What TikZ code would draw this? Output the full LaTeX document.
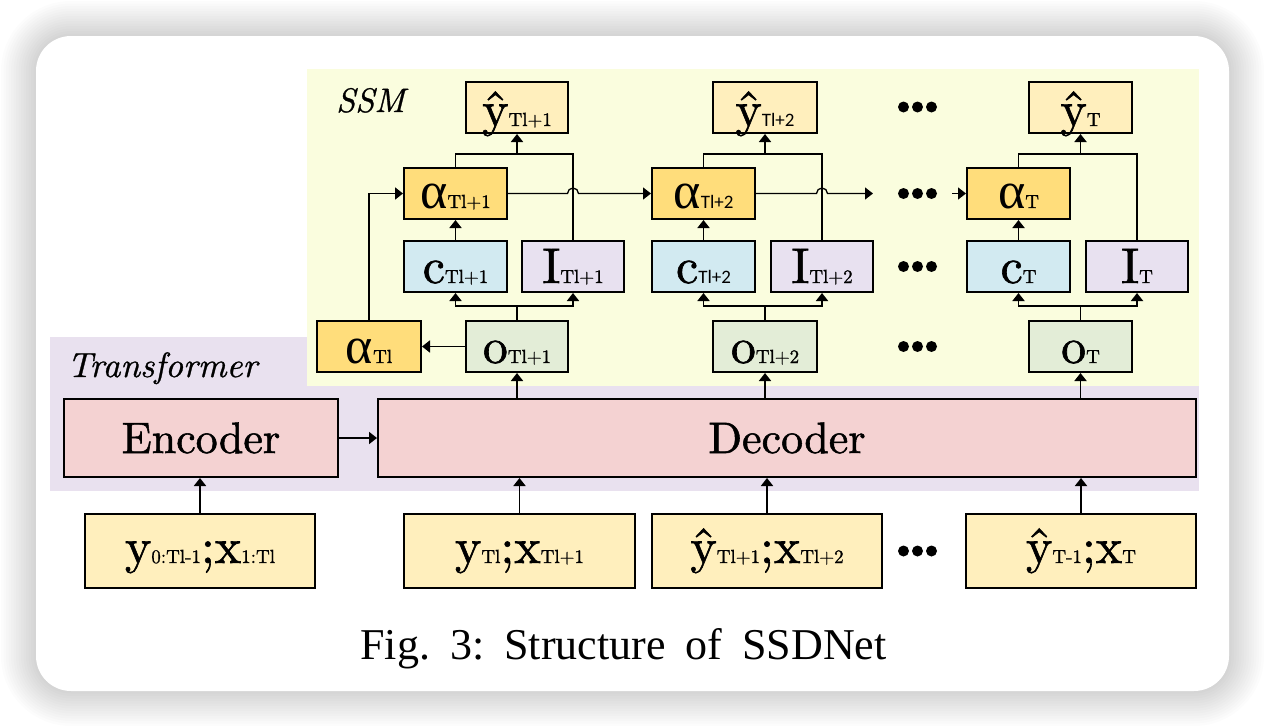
\documentclass[tikz,border=0pt]{standalone}
\usepackage{fontspec}
\usetikzlibrary{arrows.meta}
\newfontfamily\alphafont{Liberation Serif}
\newfontfamily\capfont{Liberation Serif}
\newfontfamily\subsans{Carlito}
\newfontfamily\boxfont{lmroman10-regular.otf}[RawFeature={embolden=1.2}]
\newfontfamily\boxit{lmroman10-italic.otf}[RawFeature={embolden=0.8}]
\definecolor{ssmbg}{HTML}{FAFDDE}
\definecolor{trbg}{HTML}{E9E1EF}
\definecolor{codec}{HTML}{F4D2D2}
\definecolor{inbox}{HTML}{FFEFBD}
\definecolor{alphabox}{HTML}{FFDD7B}
\definecolor{cbox}{HTML}{D2EAF1}
\definecolor{ibox}{HTML}{E8E1F0}
\definecolor{obox}{HTML}{E3EDD7}
\newcommand{\mainsz}{\boxfont\fontsize{50}{50}\selectfont}
\newcommand{\subsz}{\boxfont\fontsize{19}{19}\selectfont}
\newcommand{\boxlab}[2]{{\mainsz #1}{\subsz #2}}
\newcommand{\alphalab}[1]{{\alphafont\fontsize{52}{52}\selectfont α}{\subsz #1}}
\tikzset{
  sbox/.style={draw, line width=2pt, inner sep=0pt, minimum height=51pt, minimum width=103pt, text height=33pt, text depth=0pt},
  abox/.style={sbox, fill=alphabox, text height=29pt},
  ybox/.style={sbox, fill=inbox, text height=37pt},
  bigbox/.style={draw, line width=2pt, inner sep=0pt, minimum height=78pt, fill=codec, text height=30pt, text depth=0pt, font=\boxfont\fontsize{44}{44}\selectfont},
  inpbox/.style={draw, line width=2pt, inner sep=0pt, minimum height=74pt, minimum width=230pt, fill=inbox, text height=24pt, text depth=0pt},
  conn/.style={line width=1.8pt, -{Triangle[width=12pt,length=8pt]}},
  plain/.style={line width=1.8pt},
  hline/.style={line width=1.3pt, -{Triangle[width=12pt,length=8pt]}},
  dot/.style={fill=black}
}
\begin{document}
\begin{tikzpicture}[x=1pt,y=-1pt]
\useasboundingbox (0,0) rectangle (1266,728);
\fill[white] (0,0) rectangle (1266,728);
% shadow
\foreach \i in {1,...,14}{
  \pgfmathsetmacro\rr{35+2.5*\i}
  \fill[black, opacity=0.011, rounded corners=\rr pt] (36-2.5*\i,36-2.5*\i) rectangle (1229+2.5*\i,691+2.5*\i);
}
\fill[white, rounded corners=35pt] (36,36) rectangle (1229,691);
% region backgrounds
\fill[trbg] (50,337) rectangle (1199,491);
\fill[ssmbg] (307,69) rectangle (1199,386);
\node[anchor=base west, inner sep=0pt, font=\boxit\fontsize{34}{34}\selectfont] (ssmlab) at (336,112) {SSM};
\node[anchor=base west, inner sep=0pt, font=\boxit\fontsize{35}{35}\selectfont] (trlab) at (67,377) {Transformer};
% encoder / decoder
\node[bigbox, minimum width=274pt] (enc) at (201,438) {Encoder};
\node[bigbox, minimum width=818pt] (dec) at (787,438) {Decoder};
% inputs
\node[inpbox] (in1) at (200,551) {\boxlab{y}{0:Tl-1}{\mainsz;}\boxlab{x}{1:Tl}};
\node[inpbox, minimum width=231pt] (in2) at (519.5,551) {\boxlab{y}{Tl}{\mainsz;}\boxlab{x}{Tl+1}};
\node[inpbox] (in3) at (767,551) {\boxlab{ŷ}{Tl+1}{\mainsz;}\boxlab{x}{Tl+2}};
\node[inpbox] (in4) at (1081,551) {\boxlab{ŷ}{T-1}{\mainsz;}\boxlab{x}{T}};
% o row
\node[sbox, fill=alphabox, minimum width=104pt] (aTl) at (369,346.5) {\alphalab{Tl}};
\node[sbox, fill=obox, minimum width=102pt] (o1) at (517,346.5) {\boxlab{o}{Tl+1}};
\node[sbox, fill=obox, minimum width=104pt] (o2) at (765,346.5) {\boxlab{o}{Tl+2}};
\node[sbox, fill=obox] (o3) at (1080.5,346.5) {\boxlab{o}{T}};
% c / I row
\node[sbox, fill=cbox] (c1) at (455.5,266.5) {\boxlab{c}{Tl+1}};
\node[sbox, fill=ibox, minimum width=102pt] (I1) at (573,266.5) {\boxlab{I}{Tl+1}};
\node[sbox, fill=cbox] (c2) at (703.5,266.5) {{\mainsz c}{\subsz\subsans Tl+2}};
\node[sbox, fill=ibox, minimum width=102pt] (I2) at (822,266.5) {\boxlab{I}{Tl+2}};
\node[sbox, fill=cbox] (c3) at (1018.5,266.5) {\boxlab{c}{T}};
\node[sbox, fill=ibox, minimum width=102pt] (I3) at (1137,266.5) {\boxlab{I}{T}};
% alpha row
\node[abox] (a1) at (455.5,193.5) {\alphalab{Tl+1}};
\node[abox] (a2) at (703.5,193.5) {{\alphafont\fontsize{52}{52}\selectfont α}{\subsz\subsans Tl+2}};
\node[abox] (a3) at (1018.5,193.5) {\alphalab{T}};
% y-hat row
\node[ybox, minimum width=102pt] (y1) at (517,107.5) {\boxlab{ŷ}{Tl+1}};
\node[ybox, minimum width=104pt] (y2) at (765,107.5) {{\mainsz ŷ}{\subsz\subsans Tl+2}};
\node[ybox] (y3) at (1080.5,107.5) {\boxlab{ŷ}{T}};
% coordinates
\coordinate (b1) at (517,306);
\coordinate (b2) at (765,306);
\coordinate (b3) at (1080.5,306);
\coordinate (t1) at (517,154);
\coordinate (t2) at (765,154);
\coordinate (t3) at (1080.5,154);
\coordinate (aend) at (873,193.5);
\coordinate (astart) at (952,193.5);
\coordinate (h1) at (a1.east -| I1.north);
\coordinate (h2) at (a2.east -| I2.north);
% transformer connectors
\draw[conn] (enc.east) -- (dec.west);
\draw[conn] (in1.north) -- (in1.north |- enc.south);
\draw[conn] (in2.north) -- (in2.north |- dec.south);
\draw[conn] (in3.north) -- (in3.north |- dec.south);
\draw[conn] (in4.north) -- (in4.north |- dec.south);
\draw[conn] (o1.south |- dec.north) -- (o1.south);
\draw[conn] (o2.south |- dec.north) -- (o2.south);
\draw[conn] (o3.south |- dec.north) -- (o3.south);
% o -> c, I
\draw[plain] (o1.north) -- (b1);
\draw[conn] (b1) -| (c1.south);
\draw[conn] (b1) -| (I1.south);
\draw[plain] (o2.north) -- (b2);
\draw[conn] (b2) -| (c2.south);
\draw[conn] (b2) -| (I2.south);
\draw[plain] (o3.north) -- (b3);
\draw[conn] (b3) -| (c3.south);
\draw[conn] (b3) -| (I3.south);
\draw[conn] (o1.west) -- (aTl.east);
% c -> alpha
\draw[conn] (c1.north) -- (a1.south);
\draw[conn] (c2.north) -- (a2.south);
\draw[conn] (c3.north) -- (a3.south);
% alpha, I -> y hat
\draw[plain] (a1.north) |- (t1) -| (I1.north);
\draw[conn] (t1) -- (y1.south);
\draw[plain] (a2.north) |- (t2) -| (I2.north);
\draw[conn] (t2) -- (y2.south);
\draw[plain] (a3.north) |- (t3) -| (I3.north);
\draw[conn] (t3) -- (y3.south);
% alpha chain
\draw[conn] (aTl.north) |- (a1.west);
\draw[hline] (a1.east) -- ([xshift=-5.5pt]h1) arc[start angle=180,end angle=0,radius=5.5pt] -- (a2.west);
\draw[hline] (a2.east) -- ([xshift=-5.5pt]h2) arc[start angle=180,end angle=0,radius=5.5pt] -- (aend);
\draw[hline] (astart) -- (a3.west);
% dots
\foreach \yy in {107,193.5,266.5,346.5,551}{
  \foreach \xx in {903.5,917.5,931.5}{
    \fill[dot] (\xx,\yy) circle[radius=5.5pt];
  }
}
% caption
\node[anchor=base, inner sep=0pt, font=\capfont\fontsize{44}{44}\selectfont] (cap) at (623.5,659) {Fig.\hspace{20pt}3:\hspace{20pt}Structure\hspace{20pt}of\hspace{20pt}SSDNet};
\end{tikzpicture}
\end{document}
